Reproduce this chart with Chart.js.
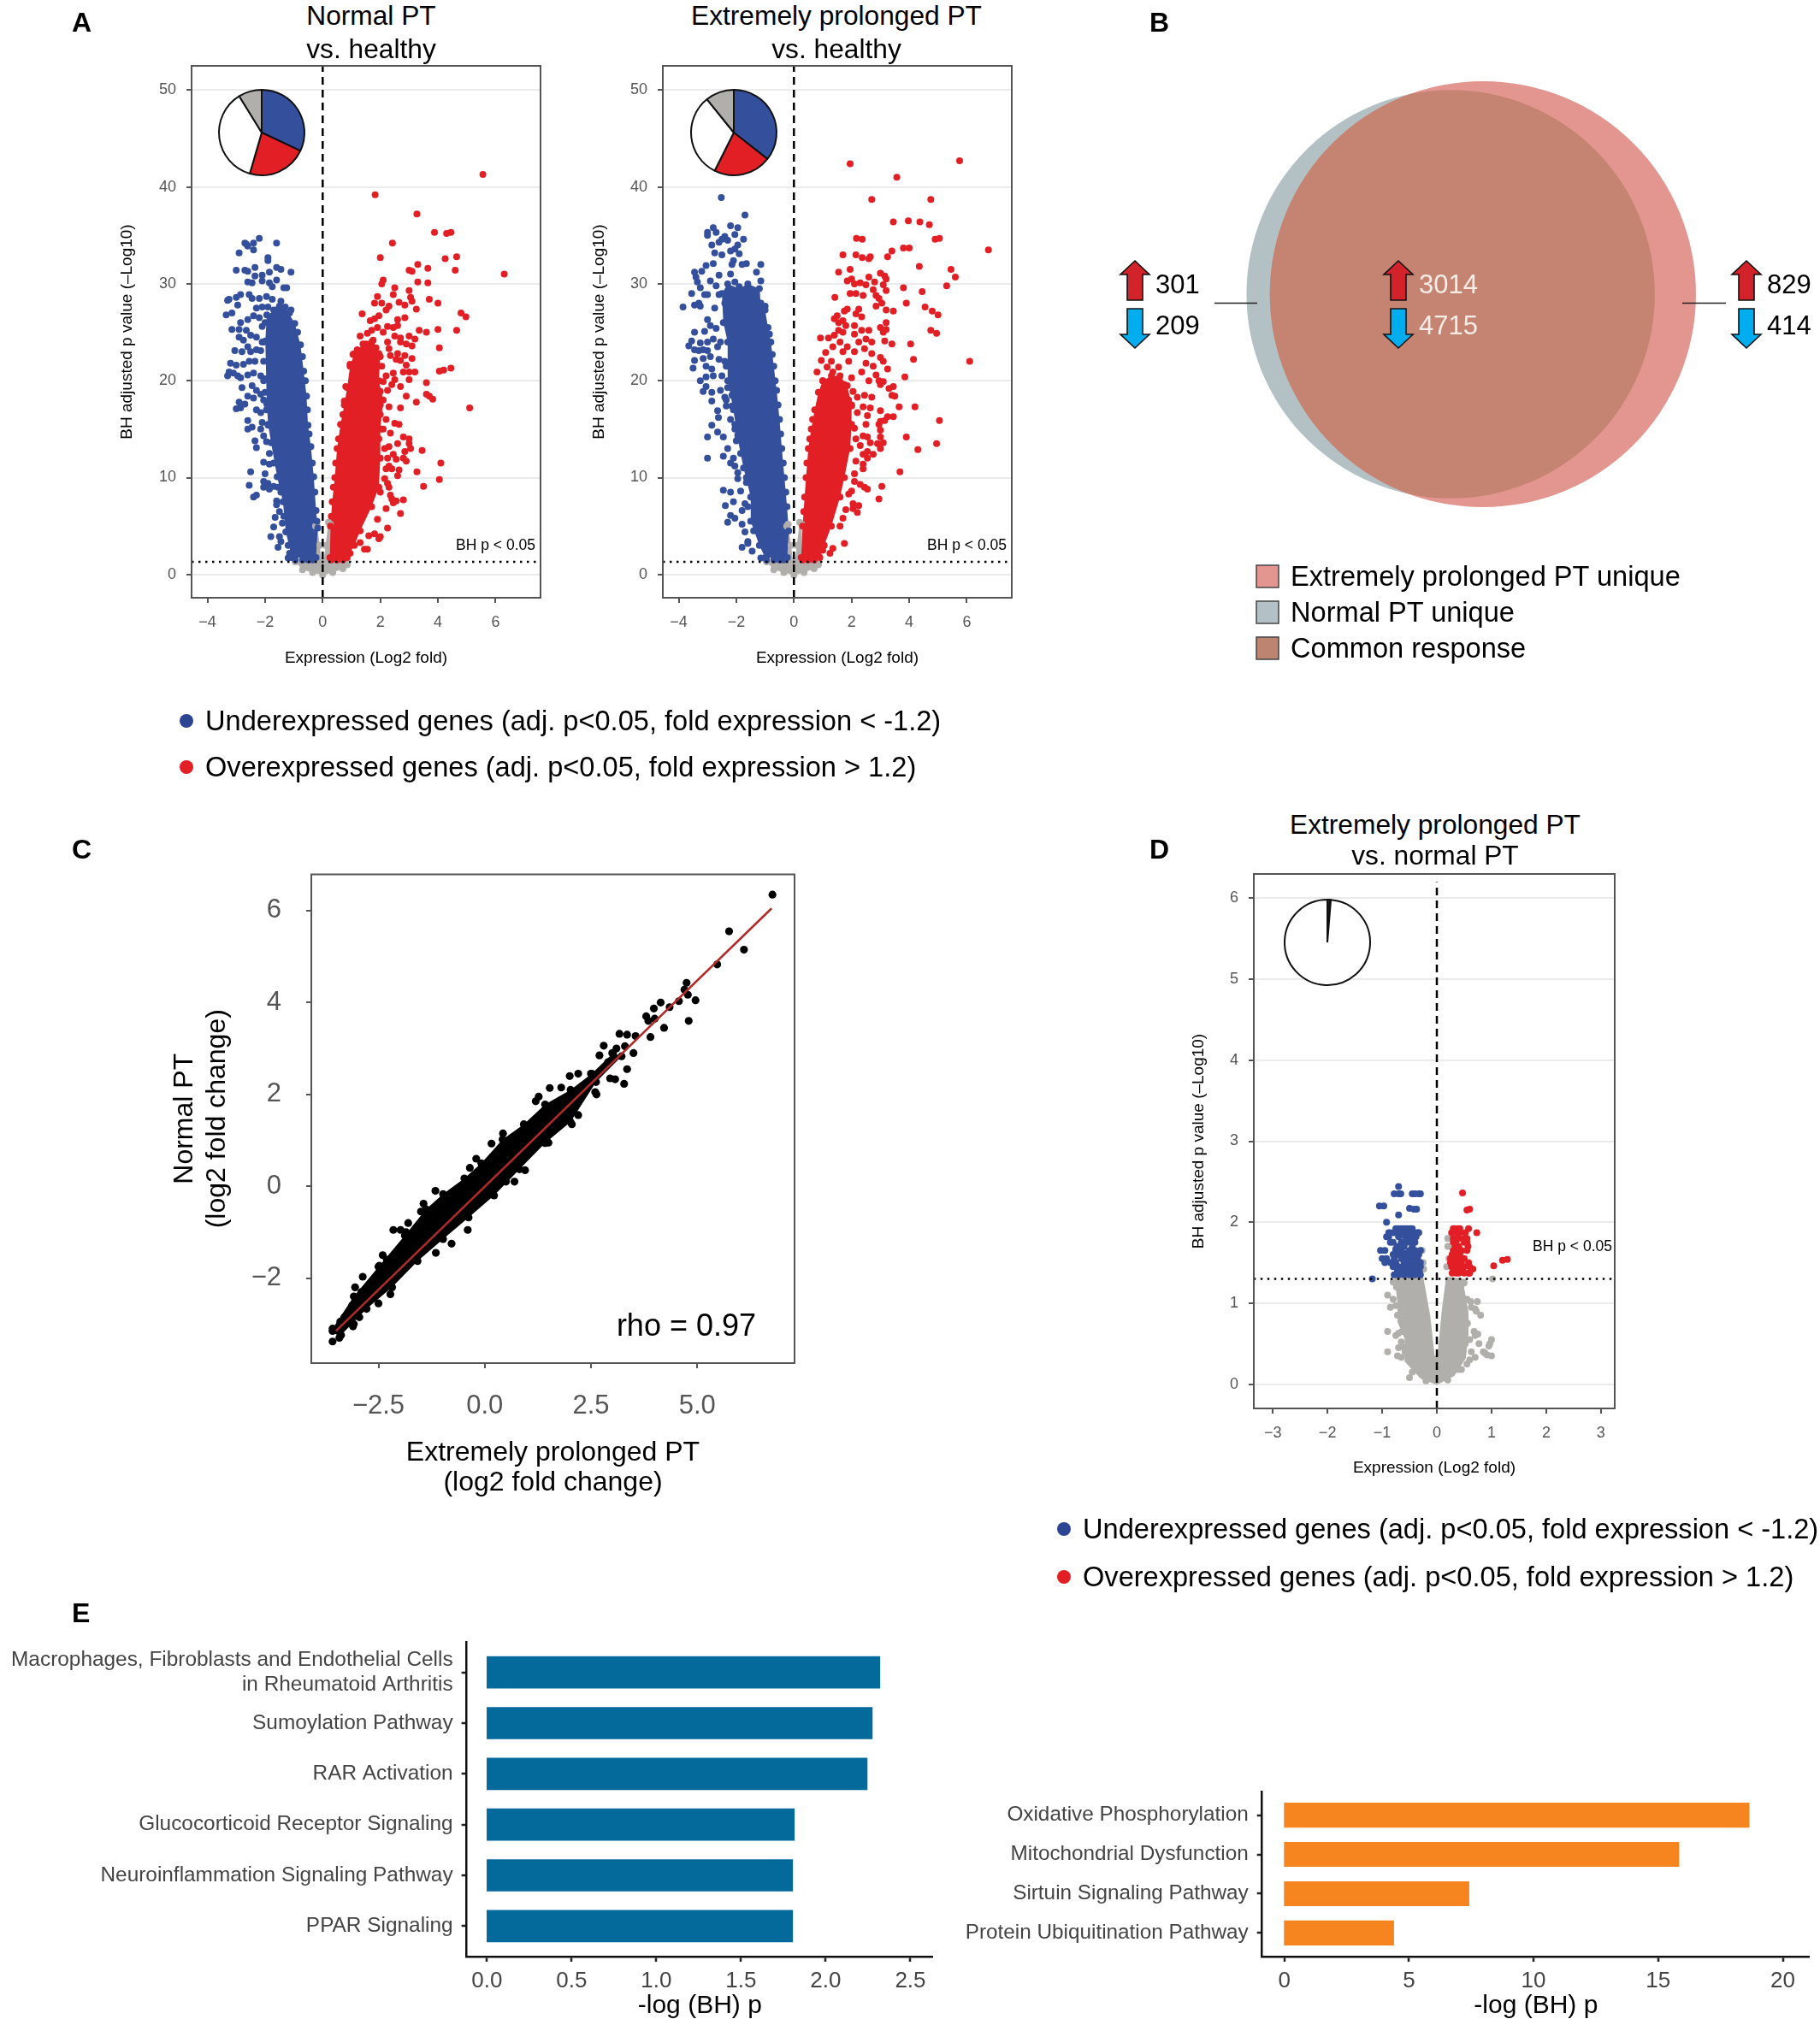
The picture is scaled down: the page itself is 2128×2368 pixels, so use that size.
<!DOCTYPE html>
<html>
<head>
<meta charset="utf-8">
<script src="https://cdn.jsdelivr.net/npm/chart.js@4/dist/chart.umd.min.js"></script>
<style>
  html, body { margin: 0; background: #fff; }
  #page { position: relative; width: 2128px; height: 2368px; overflow: hidden; font-family: "Liberation Sans", Arial, sans-serif; }
  canvas { position: absolute; }
  .t { position: absolute; white-space: pre; line-height: 1; transform: translateY(-50%); }
  .tr { transform: translate(-100%, -50%); }
  .tc { transform: translate(-50%, -50%); }
  svg { position: absolute; left: 0; top: 0; }
</style>
</head>
<body>
<div id="page"></div>
<script>
// values. the saturated middle of each volcano is kept as an
// outline (..Core) plus the dots that can be told apart around it
const threshold = 1.3
const volcanoYTicks = [0, 10, 20, 30, 40, 50]
const volcanoXTicks = [-4, -2, 0, 2, 4, 6]
const dYTicks = [0, 1, 2, 3, 4, 5, 6]
const dXTicks = [-3, -2, -1, 0, 1, 2, 3]
const corrXTicks = [-2.5, 0, 2.5, 5]
const corrYTicks = [-2, 0, 2, 4, 6]

const pieNormal = [32, 22.5, 36.7, 8.8]
const pieProlonged = [35.6, 21.8, 31.8, 10.8]
const pieVersus = [0.9, 0.4, 98.7, 0]

const grayCore = [[-0.95,1.3],[-0.7,0.5],[-0.35,0.2],[0,-0.05],[0.35,0.2],[0.7,0.6],[0.85,1.0],[0.8,1.35],[0.28,1.4],[0.27,5.2],[0.2,5.4],[0.1,3],[0.03,1.2],[-0.03,1.2],[-0.1,3],[-0.2,5.2],[-0.25,5],[-0.25,1.4]]

const normalDownCore = [[-1.3,27.6],[-0.97,25.9],[-0.77,23.7],[-0.66,21],[-0.56,18.4],[-0.51,15.4],[-0.41,13.2],[-0.31,10.1],[-0.23,6.6],[-0.17,4.8],[-0.23,1.75],[-1.07,1.75],[-1.28,4.4],[-1.38,7.5],[-1.58,10.1],[-1.79,13.6],[-1.89,15.4],[-1.94,17.6],[-1.99,24.1],[-1.94,26.8],[-1.6,27.3]]
const normalDown = [[-2.2,34.7],[-2.4,34.2],[-2.65,34.1],[-2.7,34.2],[-2.6,33.9],[-1.6,34.2],[-2.4,33.5],[-2.9,33.2],[-1.9,32.7],[-1.9,32.4],[-3,31.4],[-2.7,31.4],[-2.6,31.3],[-2.35,31.7],[-1.85,31.2],[-1.6,31.7],[-1.45,31.5],[-1.1,31.2],[-2.1,30.9],[-2.1,30.3],[-2.35,30.8],[-2.6,30.2],[-1.85,30.1],[-1.6,30.4],[-1.75,29.7],[-1.35,29.6],[-1.25,29.6],[-2.45,30.1],[-3.3,28.3],[-3.25,28.4],[-3,28.6],[-2.85,28.9],[-2.55,28.9],[-2.45,28.5],[-2.2,28.5],[-1.95,28.7],[-1.75,28.4],[-1.45,28.2],[-1.5,27.7],[-2.95,27.8],[-3.35,26.8],[-3.15,27],[-2.3,27.5],[-2.1,27.6],[-1.9,27.6],[-1.1,27.3],[-1.7,27.3],[-2.85,26],[-2.6,26.3],[-2.4,26.7],[-2.2,26.5],[-2.1,25.6],[-3.15,25.3],[-2.9,25.3],[-2.65,25.2],[-2.5,24.7],[-2.9,24.5],[-2.75,24.2],[-2.3,24.5],[-2.1,24],[-2.6,23.5],[-3.05,23.1],[-2.8,23],[-2.5,23],[-2.3,23.2],[-2.15,23.1],[-3.2,21.8],[-3,21.6],[-2.75,21.7],[-2.55,22],[-2.35,22],[-3.25,20.9],[-3.3,20.5],[-3.1,20.8],[-2.95,20.5],[-2.85,20.3],[-2.6,20.6],[-2.4,20.8],[-2.15,20.5],[-2,20.2],[-2.8,19.3],[-2.45,19.5],[-2.3,19],[-2.6,18.4],[-2.4,18.2],[-2.15,18.6],[-2,18.8],[-2.9,17.8],[-3,17.1],[-2.85,17.2],[-2.7,17.6],[-2.3,17],[-2.15,16.7],[-1.95,17],[-2.6,15.9],[-2.1,15.7],[-1.9,15.5],[-2.6,15],[-2.45,15.2],[-2.15,15],[-2.05,14.3],[-2.35,13.8],[-1.95,13.7],[-2.3,13.1],[-2.05,11.6],[-1.85,11.4],[-2.5,10.6],[-2,10.4],[-2.05,9.6],[-1.9,9.4],[-2.05,9],[-1.7,9.1],[-2.55,9.2],[-1.85,8.8],[-2.3,8.2],[-2.4,8],[-1.6,7.6],[-1.6,7.2],[-1.65,5.9],[-1.5,6.5],[-1.4,5.3],[-1.8,3.9],[-1.5,3.9],[-1.55,2.8],[-1.45,3.4],[-1.7,4.9],[-1.15,2.2],[-1.2,1.7],[-2.05,18],[-2.05,20],[-2.05,22],[-2.05,24],[-2,26],[-1.85,12.5],[-1.7,11.5],[-1.55,9],[-1.45,8.5],[-1.35,6],[-1.2,3],[-0.95,1.5],[-0.7,1.5],[-0.5,1.5],[-0.35,1.5],[-1.15,27],[-0.87,25],[-0.7,22.5],[-0.6,20],[-0.53,17],[-0.47,14.5],[-0.36,11.5],[-0.27,8.5],[-0.2,5.5]]
const normalUpCore = [[0.25,1.75],[0.27,5],[0.33,7.5],[0.42,10],[0.5,13],[0.62,15.5],[0.75,17.5],[0.85,19.3],[0.95,21.5],[1.1,22.8],[1.4,23.8],[1.75,24.2],[2,22.5],[1.95,20],[2.1,18],[2,15],[2,12],[1.95,9],[1.7,7],[1.3,4.5],[1.1,3],[0.85,1.75]]
const normalUp = [[5.56,41.3],[1.82,39.2],[3.27,37.2],[3.88,35.3],[4.3,35.2],[4.45,35.3],[2.42,34.2],[2,32.7],[4.65,32.8],[4.25,32.6],[3.3,32],[3.65,31.6],[3,31.4],[3.1,31.3],[4.6,31.4],[6.3,31],[2.1,30.4],[2.05,30],[3.65,30.1],[3.3,30.2],[2.5,29.6],[3,29.3],[3.05,28.6],[1.9,28.7],[2.45,28.9],[3.1,28.2],[3.7,28.4],[4,28],[2.65,28.1],[2.85,27.8],[1.8,28],[2.05,28],[2.3,27.7],[2.2,27.3],[3.25,27.4],[1.37,26.9],[1.95,26.7],[1.8,26.4],[1.65,26.2],[2.6,26.3],[2.85,26.5],[4.8,27],[4.97,26.6],[1.9,25.5],[2.25,25.6],[2.45,25.5],[2.6,25.7],[1.7,25.2],[1.55,24.9],[1.3,24.6],[2.1,25],[2.5,24.6],[2.7,24.4],[3.35,25.2],[3.6,25],[4,25.3],[4.65,25.2],[3,24.6],[3.2,24.3],[2.7,24],[2.9,23.8],[2.25,24],[1.7,24],[1.5,23.8],[1.85,23.4],[3.1,23.6],[4.05,23.4],[2.3,23.3],[1.2,23.2],[1.05,22.7],[1.45,22.8],[1.95,22.8],[2.35,22.6],[2.6,22.8],[2.85,22.6],[3.1,22.3],[2.55,22.2],[2.7,22.1],[0.95,21.7],[1.15,21.8],[1.4,21.9],[1.8,21.6],[2.05,21.5],[2.9,21.6],[3,20.9],[3.2,20.9],[2.8,20.9],[4.05,21],[4.2,21.1],[4.45,21.3],[2.45,20.8],[2.2,20.5],[1.3,20.7],[1.6,20.6],[1.05,20],[1.8,20],[2.1,19.9],[2.5,20.1],[3,20.1],[0.8,19.4],[1.2,19.5],[1.5,19.3],[2.4,19.6],[2.7,19.4],[3.6,19.8],[2.25,19],[2,18.9],[2.9,18.4],[3.6,18.6],[3.7,18.4],[3.82,18.1],[3.25,17.8],[2.7,17.2],[5.1,17.2],[2.3,17.3],[2,17.5],[0.75,17.9],[2,16.5],[2.2,16],[2.5,15.6],[2.65,15.5],[2.1,15],[2.35,14.6],[1.95,14],[2.8,14.2],[3,14],[3,13.5],[2.6,13.5],[2.3,13.2],[2.15,13],[3.05,13],[2.85,12.7],[2.45,12.4],[2.8,12],[2.25,12],[2.55,11.9],[2.9,11.7],[3.45,12.8],[2.3,11.2],[4.1,11.5],[2.2,10.9],[2.4,10.9],[2.65,10.8],[3.27,10.6],[2.6,10.2],[2.15,9.9],[2.25,9.4],[4.05,9.8],[3.5,9.1],[2.3,9],[2,8.5],[2.35,8.2],[2.4,7.8],[2.55,7.6],[2.8,7.7],[2.45,7.4],[2.2,6.8],[2.7,6.3],[1.9,5.7],[2.25,4.8],[2,3.9],[1.95,3.7],[1.6,4],[1.45,2.6],[1.55,2.6],[1.3,3.3],[1.8,4.2],[0.7,16.5],[0.55,14],[0.45,11.5],[0.37,9],[0.3,6],[0.3,1.5],[0.5,1.5],[0.7,1.5],[0.95,2.2]]

const prolongedDownCore = [[-1,27.3],[-0.9,25.5],[-0.8,24],[-0.7,21.5],[-0.6,19],[-0.5,16],[-0.42,13],[-0.33,10],[-0.24,7],[-0.18,4.5],[-0.23,1.75],[-1,1.75],[-1.2,3],[-1.5,5.5],[-1.5,8],[-1.75,11],[-1.95,14],[-2.1,17],[-2.3,20],[-2.3,24],[-2.45,26],[-2.5,29],[-2.3,30],[-1.9,29.5],[-1.6,30],[-1.2,29.5],[-1.15,28]]
const prolongedDown = [[-2.52,38.9],[-1.7,37.1],[-2.2,36],[-2.8,35.8],[-1.95,35.8],[-3,35.3],[-3,35],[-2.7,35.3],[-2.05,35.1],[-2.4,34.9],[-2.5,34.6],[-1.75,34.6],[-2.3,34.5],[-2.6,34.3],[-2.85,34],[-1.95,34],[-2.05,33.6],[-2.2,33.4],[-1.9,33.1],[-2.75,33.2],[-2.5,33],[-2.1,32.4],[-2.15,32],[-2.8,32.1],[-3.05,31.9],[-1.8,32],[-1.65,32.1],[-1.15,32],[-3.45,31.2],[-3.2,31.3],[-3.4,30.7],[-2.6,30.9],[-2.9,30.3],[-2.2,31],[-1.3,31.2],[-3.35,30.2],[-3.25,29.6],[-2.7,29.8],[-2.05,30.2],[-1.15,30.3],[-3.55,29],[-3.1,28.9],[-3,28.9],[-2.6,28.9],[-1.9,29.7],[-1.3,29],[-3.3,28],[-3.45,27.8],[-3.25,27.7],[-2.75,27.5],[-2.4,28],[-1,27.7],[-3.85,27.6],[-3,26.3],[-2.9,25.7],[-3.1,25.1],[-3.45,25],[-3.55,24.1],[-2.7,25.4],[-2.4,26],[-3.25,23.9],[-3,24],[-2.8,24.3],[-2.55,24],[-3.65,23.6],[-3.45,23.2],[-3.3,23.1],[-3.15,23.2],[-3,23.1],[-2.65,23.5],[-3.45,22.1],[-3.15,22.3],[-2.9,22.5],[-2.6,22.2],[-3.5,21.3],[-3.05,21.5],[-2.85,21.2],[-2.35,21.5],[-3.05,20.4],[-2.8,20.5],[-2.5,20.5],[-3.25,20],[-3.05,19.4],[-3.15,18.9],[-2.85,18.8],[-2.55,19],[-2.3,19.3],[-2.4,18.3],[-2.15,18.5],[-2.85,17.9],[-2.35,17.4],[-2.15,17.4],[-2.65,16.9],[-2.62,16.2],[-1.95,16.5],[-2.85,15.4],[-2.05,15.5],[-2.65,14.7],[-2.45,14.2],[-3,14.2],[-1.95,14.4],[-2,13.8],[-1.75,13.5],[-2.3,13],[-2.45,12.2],[-3,12],[-2.1,12],[-2.2,11.5],[-2.05,11.2],[-1.95,10.5],[-1.95,9.9],[-1.65,9.5],[-2.45,8.7],[-2.2,8.5],[-1.85,8.6],[-2.1,7.5],[-2.38,7.1],[-1.7,7.3],[-1.8,6.6],[-2.2,6.1],[-2.3,5.4],[-2.05,5.8],[-1.8,5.2],[-1.7,4.4],[-1.6,3.4],[-1.6,3.2],[-1.8,2.8],[-1.45,2.4],[-1.15,1.7],[-0.95,1.5],[-0.7,1.5],[-0.5,1.5],[-0.35,1.5],[-2.4,22],[-2.35,18],[-2.2,16],[-2.05,15],[-1.85,12.5],[-1.65,10],[-1.6,7],[-1.4,4.5],[-0.85,24.8],[-0.75,22.7],[-0.65,20],[-0.55,17.5],[-0.46,14.5],[-0.37,11.5],[-0.28,8.5]]
const prolongedUpCore = [[0.25,1.75],[0.3,5],[0.37,8],[0.42,10],[0.5,13],[0.6,15],[0.72,17],[0.85,18.8],[1,20],[1.3,20.5],[1.6,20.5],[1.85,19.5],[2,17.5],[2,15.5],[1.95,13],[1.75,10],[1.6,8],[1.3,5],[1.05,3],[0.9,1.75]]
const prolongedUp = [[5.75,42.7],[1.95,42.4],[3.57,41],[2.7,38.7],[4.75,38.7],[3.45,36.4],[3.97,36.5],[4.37,36.4],[4.7,36.1],[2.17,34.7],[2.37,34.6],[4.9,34.6],[5.05,34.7],[3.8,33.7],[4,33.7],[3.4,33.4],[6.75,33.5],[1.7,33],[2.15,33],[2.37,32.7],[2.6,32.6],[2.65,32.8],[3.25,32.8],[1.55,31.2],[1.95,31.5],[4.35,31.8],[5.45,31.5],[5.6,30.7],[3,31.1],[3.15,30.8],[3.2,30.5],[2,30.5],[1.85,30.3],[2.1,30],[2.3,30.1],[2.5,29.9],[2.8,30.2],[3.1,29.9],[2.6,30.7],[5.3,29.8],[3.8,29.6],[4.45,29.2],[2.75,29.4],[3.2,29.3],[1.95,29],[2.15,29],[2.4,28.8],[2.85,28.8],[2.95,28.5],[1.42,28.6],[3.05,28],[3.9,28],[2.85,27.7],[1.85,27.4],[1.75,27.2],[2.25,27.4],[3.2,27.3],[3.45,27.2],[4.55,27.6],[4.8,27.2],[5,26.8],[2.15,26.9],[2.35,26.6],[1.5,26.7],[1.4,26.4],[1.7,26.2],[1.55,26],[3.2,26],[1.8,25.7],[2.1,25.7],[2.35,25.2],[2.6,25.2],[3,25.5],[3.2,25.3],[1.55,25.2],[1.4,24.7],[1.7,25],[2.1,24.8],[3.1,25],[4.75,25.2],[4.95,24.9],[0.92,24.4],[1.2,24.4],[1.6,24],[2.5,24.3],[2.25,24],[2.7,24],[3.15,24.1],[3.4,23.8],[4.05,23.8],[1.35,23.5],[1.85,23.5],[2.45,23.3],[1.1,22.9],[1.7,23],[2.1,23],[2.7,22.8],[3,22.4],[4.15,22.2],[6.1,22],[0.95,22.1],[1.3,22],[1.9,22],[2.5,21.8],[3.1,22],[1.15,21.4],[1.55,21.4],[2.75,21.5],[3.25,21.2],[0.8,20.9],[1.35,20.9],[2.35,20.9],[2.85,20.6],[3.85,20.4],[1,20],[1.5,20],[2,20.3],[2.95,20],[3.1,19.9],[1.75,19.6],[2.6,20],[3,19.6],[3.45,19.4],[3.3,19.2],[1.2,19],[2.05,18.9],[2.45,18.5],[3.4,18.5],[3.5,18.4],[2.2,18.3],[2.7,18.3],[1.9,18],[1.6,18.2],[2,17.4],[3.65,17.3],[4.2,17.3],[2.4,17.3],[2.65,17.2],[3,16.9],[2.2,16.7],[2.55,16.4],[3.25,16.3],[3.45,16.3],[3.15,15.9],[3,15.8],[5.05,15.9],[2.5,15.5],[2.95,15.5],[2.1,15.1],[3,14.9],[2.4,14.3],[2.55,14.2],[3,14.2],[2.15,14],[3.9,14.2],[2.65,13.6],[3.1,13.6],[2.9,13.5],[2.3,13.3],[3,13],[4.95,13.5],[4.3,12.9],[2.55,12.7],[2.4,12.4],[2.75,12.4],[2.55,12],[2.15,11.7],[2.4,11.4],[2.4,10.9],[3.68,10.6],[2.1,10.4],[2.1,9.6],[2.3,9.3],[2.45,9],[2.55,8.8],[3.05,9.1],[2,8.6],[1.9,8.3],[2.95,7.8],[2.05,7.3],[2.25,7.1],[1.8,6.7],[2.05,6.8],[2.2,6.4],[1.7,5.8],[1.6,5],[1.75,3.2],[1.35,2.7],[1.25,2.2],[0.85,1.9],[0.65,16],[0.55,14],[0.45,11.5],[0.34,6.5],[0.3,1.5],[0.5,1.5],[0.7,1.5],[1,2.5]]

const versusGrayCore = [[-0.77,1.33],[-0.72,0.98],[-0.72,0.77],[-0.59,0.56],[-0.59,0.28],[-0.3,0.07],[0,-0.01],[0.32,0.1],[0.53,0.32],[0.58,0.63],[0.58,0.88],[0.5,1.19],[0.53,1.3],[0.17,1.33],[0.09,0.91],[0.01,0.35],[-0.04,0.35],[-0.12,0.84],[-0.25,1.33]]
const versusGray = [[-0.27,1.65],[-0.25,1.5],[-0.24,1.42],[-0.9,1.1],[-0.8,1.05],[-0.75,0.97],[-0.8,1.26],[-0.85,0.95],[-0.9,0.65],[-0.75,0.6],[-0.9,0.4],[-0.7,0.45],[-0.72,0.35],[-0.65,0.33],[-0.6,0.45],[-0.5,0.08],[-0.35,0.2],[-0.7,0.63],[-0.65,0.52],[0.62,1.02],[0.74,1.02],[0.7,0.93],[0.72,0.9],[0.8,0.85],[0.63,0.95],[0.68,0.65],[0.75,0.62],[0.7,0.6],[0.6,0.55],[0.77,0.5],[0.63,0.4],[0.7,0.33],[0.85,0.4],[0.88,0.38],[0.92,0.36],[1,0.35],[0.95,0.47],[0.97,0.5],[1,0.55],[1.02,1.3],[0.2,1.8],[0.2,1.7],[0.22,1.55],[0.18,1.45],[0.6,0.3],[0.55,0.25],[0.45,0.18],[-0.74,1.2],[-0.72,0.85],[-0.64,0.65],[-0.58,0.4],[-0.45,0.15],[-0.2,0.04],[0.2,0.05],[0.4,0.18],[0.52,0.5],[0.56,0.75],[0.55,1.05],[0.5,1.25]]
const versusDown = [[-1.18,1.3],[-0.7,2.44],[-0.78,2.35],[-0.7,2.35],[-0.66,2.35],[-0.45,2.35],[-0.4,2.35],[-0.33,2.35],[-0.3,2.35],[-1.05,2.2],[-0.97,2.2],[-0.5,2.17],[-0.42,2.16],[-0.37,2.16],[-0.7,2.09],[-0.92,2],[-0.75,1.92],[-0.7,1.92],[-0.65,1.92],[-0.6,1.92],[-0.55,1.92],[-0.5,1.92],[-0.45,1.92],[-0.88,1.87],[-0.85,1.87],[-0.78,1.87],[-0.7,1.87],[-0.6,1.87],[-0.5,1.87],[-0.4,1.87],[-0.35,1.87],[-0.33,1.87],[-0.92,1.82],[-0.88,1.82],[-0.7,1.82],[-0.58,1.82],[-0.5,1.82],[-0.42,1.82],[-0.38,1.82],[-0.85,1.75],[-0.65,1.75],[-0.55,1.75],[-0.45,1.75],[-0.4,1.75],[-0.8,1.75],[-0.72,1.7],[-0.6,1.7],[-0.45,1.7],[-0.75,1.67],[-1.03,1.65],[-0.95,1.65],[-0.75,1.65],[-0.65,1.65],[-0.5,1.65],[-0.4,1.65],[-0.3,1.65],[-0.8,1.6],[-0.7,1.6],[-0.6,1.6],[-0.5,1.6],[-0.42,1.6],[-0.33,1.6],[-0.55,1.62],[-1,1.55],[-0.92,1.55],[-0.78,1.55],[-0.65,1.55],[-0.55,1.55],[-0.45,1.55],[-0.35,1.55],[-0.95,1.5],[-0.85,1.5],[-0.75,1.5],[-0.6,1.5],[-0.5,1.5],[-0.4,1.5],[-0.3,1.5],[-0.8,1.45],[-0.7,1.45],[-0.6,1.45],[-0.5,1.45],[-0.4,1.45],[-0.3,1.45],[-0.72,1.4],[-0.62,1.4],[-0.52,1.4],[-0.42,1.4],[-0.32,1.4],[-0.78,1.35],[-0.7,1.35],[-0.6,1.35],[-0.5,1.35],[-0.4,1.35],[-0.3,1.35]]
const versusUp = [[0.47,2.36],[0.55,2.15],[0.6,2.16],[0.3,1.92],[0.33,1.92],[0.38,1.92],[0.42,1.92],[0.58,1.92],[0.27,1.87],[0.37,1.87],[0.42,1.87],[0.52,1.87],[0.73,1.87],[0.3,1.8],[0.35,1.8],[0.4,1.8],[0.5,1.8],[0.55,1.8],[0.3,1.75],[0.35,1.75],[0.5,1.75],[0.55,1.75],[0.33,1.7],[0.4,1.7],[0.57,1.7],[0.3,1.65],[0.35,1.65],[0.4,1.65],[0.45,1.65],[0.55,1.65],[0.28,1.6],[0.35,1.6],[0.42,1.6],[0.25,1.55],[0.32,1.55],[0.4,1.55],[0.5,1.55],[1.29,1.54],[1.2,1.53],[1.04,1.46],[0.25,1.5],[0.33,1.5],[0.4,1.5],[0.45,1.5],[0.58,1.5],[0.27,1.45],[0.35,1.45],[0.42,1.45],[0.5,1.45],[0.6,1.45],[0.3,1.42],[0.38,1.42],[0.45,1.42],[0.66,1.42],[0.28,1.37],[0.35,1.37],[0.4,1.37],[0.5,1.37],[0.58,1.37],[0.6,1.37]]

const corrCore = [[-3.58,-3.1],[-3.08,-2.4],[-2.48,-1.73],[-1.88,-1.07],[-1.38,-0.5],[-0.98,-0.17],[-0.48,0.17],[-0.08,0.5],[0.42,1.02],[0.92,1.35],[1.42,1.78],[2.02,2.1],[2.52,2.45],[3.02,2.9],[3.22,2.83],[2.62,2.27],[2.02,1.4],[1.42,0.94],[0.82,0.37],[0.22,-0.2],[-0.38,-0.68],[-0.98,-1.15],[-1.58,-1.63],[-2.18,-2.2],[-2.78,-2.67],[-3.38,-3.24]]
const corrPoints = [[6.77,6.35],[5.75,5.55],[6.1,5.15],[5.47,4.83],[4.75,4.43],[4.7,4.28],[4.78,4.17],[4.96,4.05],[4.57,4.03],[4.35,3.9],[4.14,4],[3.98,3.87],[4,3.65],[3.8,3.7],[3.85,3.6],[4.22,3.45],[4.8,3.6],[3.9,3.25],[3.17,3.32],[3.35,3.3],[3.55,3.27],[2.8,3.06],[3,2.9],[3.1,3],[2.7,2.85],[3.5,2.9],[3.35,2.55],[3.28,2.23],[2.95,2.35],[3.07,2.33],[2.63,2],[2.5,2.45],[2.2,2.45],[2,2.4],[1.8,2.15],[1.53,2.14],[1.27,1.95],[1.2,1.85],[0.16,0.93],[0.43,1.15],[-0.35,0.4],[-0.2,0.6],[-1.16,-0.1],[-1.44,-0.38],[-1.5,-0.55],[-1.8,-0.8],[-2.15,-0.95],[-1.98,-0.95],[-1.85,-1],[-2.4,-1.5],[-2.3,-1.6],[-2.5,-1.75],[-2.87,-1.97],[-3.05,-2.2],[-2.9,-2.3],[-3.12,-2.6],[-3.3,-2.85],[-3.4,-2.95],[-3.58,-3.15],[-3.45,-3.15],[-3.58,-3.38],[-3.42,-3.3],[-3.08,-3],[-3.1,-3.05],[-2.95,-2.85],[-0.4,-0.95],[-0.78,-1.25],[-1.15,-1.45],[-2.22,-2.35],[-2.5,-2.55],[0.5,0.1],[0.7,0.1],[0.95,0.35],[1.5,0.95],[2.05,1.35],[2.2,1.55],[2.6,2.05],[3.3,3.05],[2.9,2.7],[2.5,2.3]]
const corrFit = [[-3.5,-3.15],[6.75,6.05]]

const vennTotals = [8239, 8972]
const vennCenters = [-18.85, 18.85]

const bluePaths = ['Macrophages, Fibroblasts and Endothelial Cells|in Rheumatoid Arthritis', 'Sumoylation Pathway', 'RAR Activation', 'Glucocorticoid Receptor Signaling', 'Neuroinflammation Signaling Pathway', 'PPAR Signaling']
const blueValues = [2.32, 2.275, 2.245, 1.815, 1.805, 1.805]
const blueTicks = [0, 0.5, 1, 1.5, 2, 2.5]
const orangePaths = ['Oxidative Phosphorylation', 'Mitochondrial Dysfunction', 'Sirtuin Signaling Pathway', 'Protein Ubiquitination Pathway']
const orangeValues = [18.65, 15.83, 7.41, 4.39]
const orangeTicks = [0, 5, 10, 15, 20]

const BLUE = '#34509c', RED = '#e31f26', GRAY = '#b0afab'
const FONT = '"Liberation Sans", Arial, sans-serif'
const page = document.getElementById('page')

const xy = (rows) => rows.map(p => ({x: p[0], y: p[1]}))
const minus = (s) => String(s).replace('-', '\u2212')

function text (str, x, y, size, opts = {}) {
  const d = document.createElement('div')
  d.className = 't ' + (opts.cls || '')
  d.textContent = str
  d.style.left = x + 'px'
  d.style.top = y + 'px'
  d.style.fontSize = size + 'px'
  d.style.color = opts.color || '#000'
  if (opts.bold) d.style.fontWeight = 'bold'
  page.appendChild(d)
}

function addCanvas (box) {
  const c = document.createElement('canvas')
  c.width = box.r - box.l
  c.height = box.b - box.t
  c.style.left = box.l + 'px'
  c.style.top = box.t + 'px'
  c.style.width = c.width + 'px'
  c.style.height = c.height + 'px'
  page.appendChild(c)
  return c
}

// fills the outlines of the saturated regions, and the panel frame
const corePlugin = {
  id: 'core',
  beforeDatasetsDraw (chart, args, o) {
    const {ctx, scales} = chart
    ctx.save()
    ctx.beginPath()
    ctx.rect(chart.chartArea.left, chart.chartArea.top, chart.chartArea.width, chart.chartArea.height)
    ctx.clip()
    ;(o.shapes || []).forEach(s => {
      ctx.fillStyle = s.color
      ctx.beginPath()
      s.pts.forEach((p, i) => {
        const px = scales.x.getPixelForValue(p[0]), py = scales.y.getPixelForValue(p[1])
        i ? ctx.lineTo(px, py) : ctx.moveTo(px, py)
      })
      ctx.closePath()
      ctx.fill()
    })
    ctx.restore()
  },
  afterDraw (chart, args, o) {
    if (!o.frame) return
    const {ctx, chartArea: a} = chart
    ctx.save()
    ctx.strokeStyle = '#555'
    ctx.lineWidth = 2
    ctx.strokeRect(a.left, a.top, a.width, a.height)
    ctx.restore()
  }
}
Chart.register(corePlugin)

// paints the shared part of the two venn circles in its own colour
const overlapPlugin = {
  id: 'overlap',
  afterDatasetsDraw (chart, args, o) {
    if (!o.color) return
    const {ctx} = chart
    const a = chart.getDatasetMeta(0).data[0], b = chart.getDatasetMeta(1).data[0]
    ctx.save()
    ctx.beginPath()
    ctx.arc(a.x, a.y, a.options.radius, 0, Math.PI * 2)
    ctx.clip()
    ctx.fillStyle = o.color
    ctx.beginPath()
    ctx.arc(b.x, b.y, b.options.radius, 0, Math.PI * 2)
    ctx.fill()
    ctx.restore()
  }
}
Chart.register(overlapPlugin)

function axisOpts (o) {
  return {
    type: 'linear',
    min: o.min,
    max: o.max,
    offset: false,
    reverse: !!o.reverse,
    afterBuildTicks (s) { s.ticks = o.ticks.map(v => ({value: v})) },
    afterFit (s) {
      if (o.width !== undefined) s.width = o.width
      if (o.height !== undefined) s.height = o.height
      // the plot box is placed by hand, no room needed for the end labels
      s.paddingTop = s.paddingBottom = s.paddingLeft = s.paddingRight = 0
    },
    grid: {offset: false, drawOnChartArea: !!o.gridColor, color: o.gridColor || '#555', lineWidth: o.gridColor ? 2 : 0, tickColor: o.tickColor || '#555', tickLength: o.tickLength || 6, tickWidth: o.tickWidth || 2},
    border: {display: !!o.axisLine, color: '#111', width: 2.5},
    ticks: {autoSkip: false, maxRotation: 0, minRotation: 0, padding: o.pad, color: o.tickText || '#555', font: {family: FONT, size: o.size}, callback: o.format},
    title: {display: !!o.title, text: o.title, color: '#000', padding: 0, font: {family: FONT, size: o.titleSize, lineHeight: o.titleLine || 1.2}}
  }
}

function dots (rows, color, order, r = 4) {
  return {data: xy(rows), showLine: false, pointRadius: r, pointHoverRadius: r, pointBorderWidth: 0, backgroundColor: color, order}
}
function rule (rows, dash, width = 2.5, color = '#000') {
  return {data: xy(rows), showLine: true, fill: false, pointRadius: 0, borderColor: color, borderWidth: width, borderDash: dash, order: 0}
}

function panel (box, area, datasets, shapes, xAxis, yAxis) {
  new Chart(addCanvas(box), {
    type: 'scatter',
    data: {datasets},
    options: {
      responsive: false,
      animation: false,
      events: [],
      layout: {padding: {top: area.t - box.t, right: box.r - area.r, left: 0, bottom: 0}},
      plugins: {legend: {display: false}, tooltip: {enabled: false}, core: {shapes, frame: true}},
      scales: {
        x: axisOpts({...xAxis, height: box.b - area.b}),
        y: axisOpts({...yAxis, width: area.l - box.l})
      }
    }
  })
}

function pie (cx, cy, r, values) {
  const box = {l: cx - r - 6, r: cx + r + 6, t: cy - r - 6, b: cy + r + 6}
  new Chart(addCanvas(box), {
    type: 'pie',
    data: {datasets: [{data: values, backgroundColor: [BLUE, RED, '#fff', GRAY], borderColor: '#111', borderWidth: 2}]},
    options: {responsive: false, animation: false, events: [], radius: r, plugins: {legend: {display: false}, tooltip: {enabled: false}}}
  })
}

function volcano (box, area, down, downCore, up, upCore, pieValues, pieCx) {
  const xMin = -4.55, xMax = 7.56, yMin = -2.4, yMax = 52.5
  panel(box, area, [
    rule([[0, yMin], [0, yMax]], [9, 6]),
    rule([[xMin, threshold], [xMax, threshold]], [2.5, 5.5]),
    dots(up.concat(upCore), RED, 1),
    dots(down.concat(downCore), BLUE, 2),
    dots(grayCore, GRAY, 3)
  ], [
    {pts: grayCore, color: GRAY}, {pts: downCore, color: BLUE}, {pts: upCore, color: RED}
  ], {
    min: xMin, max: xMax, ticks: volcanoXTicks, pad: 12, size: 18, format: minus,
    title: 'Expression (Log2 fold)', titleSize: 19
  }, {
    min: yMin, max: yMax, ticks: volcanoYTicks, gridColor: '#ebebeb', pad: 12, size: 18, format: minus,
    title: 'BH adjusted p value (\u2013Log10)', titleSize: 19
  })
  pie(pieCx, 155, 50, pieValues)
}

// A
volcano({l: 137, r: 650, t: 60, b: 781}, {l: 224, r: 632, t: 77, b: 699}, normalDown, normalDownCore, normalUp, normalUpCore, pieNormal, 305.5)
volcano({l: 689, r: 1200, t: 60, b: 781}, {l: 775, r: 1183, t: 77, b: 699}, prolongedDown, prolongedDownCore, prolongedUp, prolongedUpCore, pieProlonged, 858)
text('Normal PT', 434, 19, 31.7, {cls: 'tc'})
text('vs. healthy', 434, 58, 31.7, {cls: 'tc'})
text('Extremely prolonged PT', 978, 19, 31.7, {cls: 'tc'})
text('vs. healthy', 978, 58, 31.7, {cls: 'tc'})
text('BH p < 0.05', 626, 638, 17.5, {cls: 'tr'})
text('BH p < 0.05', 1177, 638, 17.5, {cls: 'tr'})

// C
panel({l: 197, r: 950, t: 1010, b: 1752}, {l: 364, r: 929, t: 1022.5, b: 1594}, [
  rule(corrFit, [], 2.5, '#b22a2a'),
  dots(corrPoints.concat(corrCore), '#000', 1, 4.6)
], [{pts: corrCore, color: '#000'}], {
  min: -4.08, max: 7.29, ticks: corrXTicks, pad: 26, size: 31, tickLength: 6,
  format: v => minus(Number(v).toFixed(1)),
  title: ['Extremely prolonged PT', '(log2 fold change)'], titleSize: 32, titleLine: 1.1
}, {
  min: -3.85, max: 6.79, ticks: corrYTicks, pad: 29, size: 31, tickLength: 6, format: minus,
  title: ['Normal PT', '(log2 fold change)'], titleSize: 32
})
text('rho = 0.97', 884, 1550, 36, {cls: 'tr'})

// D
panel({l: 1390, r: 1905, t: 1010, b: 1728}, {l: 1466, r: 1888, t: 1022, b: 1647}, [
  rule([[0, -0.3], [0, 6.2]], [9, 6]),
  rule([[-3.35, threshold], [3.25, threshold]], [2.5, 5.5]),
  dots(versusUp, RED, 1),
  dots(versusDown, BLUE, 2),
  dots(versusGray, GRAY, 3)
], [{pts: versusGrayCore, color: GRAY}], {
  min: -3.347, max: 3.253, ticks: dXTicks, pad: 12, size: 18, format: minus,
  title: 'Expression (Log2 fold)', titleSize: 19
}, {
  min: -0.3, max: 6.3, ticks: dYTicks, gridColor: '#ebebeb', pad: 12, size: 18, format: minus,
  title: 'BH adjusted p value (\u2013Log10)', titleSize: 19
})
pie(1552, 1102, 50, pieVersus)
text('Extremely prolonged PT', 1678, 965, 31.7, {cls: 'tc'})
text('vs. normal PT', 1678, 1001, 31.7, {cls: 'tc'})
text('BH p < 0.05', 1885, 1458, 17.5, {cls: 'tr'})

// B
new Chart(addCanvas({l: 1435, r: 1995, t: 64, b: 624}), {
  type: 'bubble',
  data: {datasets: [
    {data: [{x: vennCenters[1], y: 0, r: Math.sqrt(vennTotals[1]) * 2.63}], backgroundColor: '#e2968f', borderWidth: 0, clip: false, order: 0},
    {data: [{x: vennCenters[0], y: 0, r: Math.sqrt(vennTotals[0]) * 2.63}], backgroundColor: '#b3c1c5', borderWidth: 0, clip: false, order: 1}
  ]},
  options: {
    responsive: false, animation: false, events: [],
    layout: {autoPadding: false},
    plugins: {legend: {display: false}, tooltip: {enabled: false}, overlap: {color: '#c58371'}},
    scales: {x: {display: false, min: -280, max: 280}, y: {display: false, min: -280, max: 280}}
  }
})

const svgNS = 'http://www.w3.org/2000/svg'
const svg = document.createElementNS(svgNS, 'svg')
svg.setAttribute('width', 2128)
svg.setAttribute('height', 2368)
page.appendChild(svg)
function shape (name, attrs) {
  const el = document.createElementNS(svgNS, name)
  Object.keys(attrs).forEach(k => el.setAttribute(k, attrs[k]))
  svg.appendChild(el)
}
function arrows (cx) {
  shape('polygon', {points: [[cx, 305], [cx + 17, 321], [cx + 9, 321], [cx + 9, 351], [cx - 9, 351], [cx - 9, 321], [cx - 17, 321]].join(' '), fill: '#d2232a', stroke: '#111', 'stroke-width': 1.6})
  shape('polygon', {points: [[cx, 407], [cx + 17, 391], [cx + 9, 391], [cx + 9, 361], [cx - 9, 361], [cx - 9, 391], [cx - 17, 391]].join(' '), fill: '#00aeef', stroke: '#111', 'stroke-width': 1.6})
}
arrows(1327)
arrows(1635)
arrows(2042)
shape('line', {x1: 1420, x2: 1470, y1: 354.5, y2: 354.5, stroke: '#222', 'stroke-width': 1.5})
shape('line', {x1: 1967, x2: 2018, y1: 354.5, y2: 354.5, stroke: '#222', 'stroke-width': 1.5})
text('301', 1351, 332, 31)
text('209', 1351, 380, 31)
text('3014', 1659, 332, 31, {color: '#f5ece8'})
text('4715', 1659, 380, 31, {color: '#f5ece8'})
text('829', 2066, 332, 31)
text('414', 2066, 380, 31)
const vennKeys = [['Extremely prolonged PT unique', '#e2968f', 674], ['Normal PT unique', '#b3c1c5', 716], ['Common response', '#bd8472', 758]]
vennKeys.forEach(k => {
  shape('rect', {x: 1469, y: k[2] - 13, width: 26, height: 26, fill: k[1], stroke: '#444', 'stroke-width': 1.5})
  text(k[0], 1509, k[2], 32.6)
})

// legends under the volcanoes
function dotKey (x, y, label, color) {
  shape('circle', {cx: x, cy: y, r: 8, fill: color})
  text(label, x + 22, y, 32.6)
}
dotKey(218, 843, 'Underexpressed genes (adj. p<0.05, fold expression < -1.2)', '#2c4593')
dotKey(218, 897, 'Overexpressed genes (adj. p<0.05, fold expression > 1.2)', RED)
dotKey(1244, 1788, 'Underexpressed genes (adj. p<0.05, fold expression < -1.2)', '#2c4593')
dotKey(1244, 1844, 'Overexpressed genes (adj. p<0.05, fold expression > 1.2)', RED)

// E
function pathBars (box, area, paths, values, ticks, color, barPx, xMin, xMax, format, labelSize) {
  const pos = paths.map((p, i) => i + 1)
  new Chart(addCanvas(box), {
    type: 'bar',
    data: {datasets: [{data: values.map((v, i) => ({x: v, y: pos[i]})), backgroundColor: color, barThickness: barPx}]},
    options: {
      indexAxis: 'y',
      responsive: false,
      animation: false,
      events: [],
      layout: {padding: {top: area.t - box.t, right: box.r - area.r, left: 0, bottom: 0}},
      plugins: {legend: {display: false}, tooltip: {enabled: false}},
      scales: {
        x: axisOpts({min: xMin, max: xMax, ticks, axisLine: true, height: box.b - area.b, pad: 7, size: 26, tickColor: '#222', tickWidth: 2.5, tickText: '#444', format, title: '-log (BH) p', titleSize: 30}),
        y: axisOpts({min: 0.4, max: paths.length + 0.6, reverse: true, ticks: pos, axisLine: true, width: area.l - box.l, pad: 10, size: labelSize, tickColor: '#222', tickWidth: 2.5, tickText: '#444', format: v => paths[v - 1].split('|')})
      }
    }
  })
}
pathBars({l: 0, r: 1110, t: 1905, b: 2364}, {l: 545.6, r: 1091, t: 1920, b: 2288}, bluePaths, blueValues, blueTicks, '#046a9b', 37, -0.12, 2.634, v => Number(v).toFixed(1), 24.4)
pathBars({l: 1100, r: 2128, t: 2080, b: 2364}, {l: 1475.7, r: 2116, t: 2095, b: 2288}, orangePaths, orangeValues, orangeTicks, '#f6851f', 28.5, -0.89, 21.08, v => String(v), 24.3)

text('A', 84, 26, 32, {bold: true})
text('B', 1344, 26, 32, {bold: true})
text('C', 84, 993, 32, {bold: true})
text('D', 1344, 993, 32, {bold: true})
text('E', 84, 1886, 32, {bold: true})
</script>
</body>
</html>
